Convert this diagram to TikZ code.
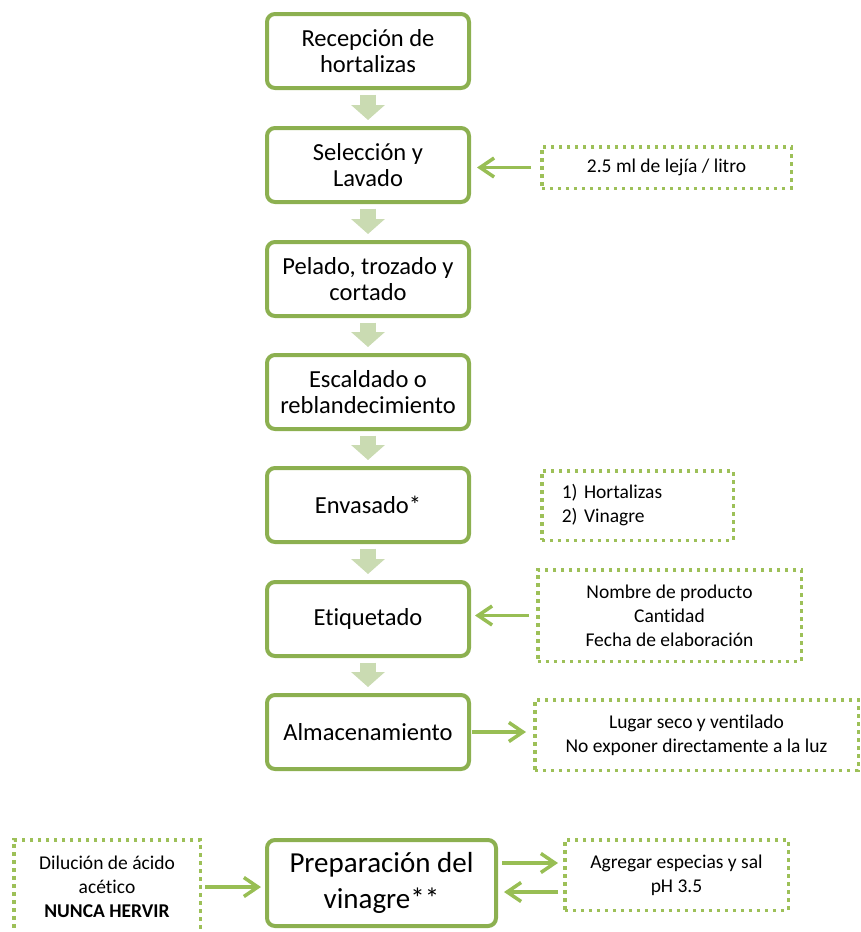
\documentclass[tikz,border=0pt]{standalone}
\usepackage{fontspec}
\setmainfont{Carlito}[Ligatures=NoCommon]
\usetikzlibrary{arrows.meta}

\begin{document}
\begin{tikzpicture}[x=1pt,y=-1pt]
% Colors
\definecolor{boxcolor}{RGB}{140,176,80}
\definecolor{fatcolor}{RGB}{202,219,178}
\definecolor{linkcolor}{RGB}{152,190,84}
\definecolor{notecolor}{RGB}{157,192,88}
% Styles
\tikzstyle{stage box}=[draw=boxcolor,line width=4pt,rounded corners=8pt,minimum width=202pt,minimum height=74pt,inner sep=0pt,align=center,font=\fontsize{24.5}{26}\selectfont]
\tikzstyle{note box}=[draw=notecolor,line width=3.5pt,dash pattern=on 3.5pt off 4.5pt,inner sep=0pt,align=center,font=\fontsize{19.5}{24}\selectfont]
\tikzstyle{flow arrow}=[fatcolor,line width=16pt,-{Triangle[length=15pt,width=33pt]}]
\tikzstyle{link arrow}=[linkcolor,line width=3.5pt,-{Straight Barb[length=14pt,width=19pt]}]
% Page
\useasboundingbox (0,0) rectangle (861,932);
\clip (0,0) rectangle (861,932);
% The graphic
\node[stage box] (recepcion) at (368,51) {Recepción de\\hortalizas};
\node[stage box] (seleccion) at (368,165) {Selección y\\Lavado};
\node[stage box] (pelado) at (368,279) {Pelado, trozado y\\cortado};
\node[stage box] (escaldado) at (368,392) {Escaldado o\\reblandecimiento};
\node[stage box] (envasado) at (368,505) {Envasado*};
\node[stage box] (etiquetado) at (368,619) {Etiquetado};
\node[stage box] (almacen) at (368,732) {Almacenamiento};
\node[stage box,minimum width=229pt,minimum height=86pt,font=\fontsize{29}{36}\selectfont] (vinagre) at (381.5,883) {Preparación del\\vinagre**};
% Notes
\node[note box,minimum width=249.5pt,minimum height=41.5pt] (lejia) at (666.5,167.5) {2.5 ml de lejía / litro};
\node[note box,minimum height=69.5pt,text width=151.5pt,inner xsep=20pt,align=left] (orden) at (637.5,505.5) {1) Hortalizas\\2) Vinagre};
\node[note box,minimum width=263.5pt,minimum height=91.5pt] (etiqueta) at (669.5,615.5) {Nombre de producto\\Cantidad\\Fecha de elaboración};
\node[note box,minimum width=323.5pt,minimum height=70.5pt] (lugar) at (696.5,735) {Lugar seco y ventilado\\No exponer directamente a la luz};
\node[note box,minimum width=186.5pt,minimum height=94.5pt] (dilucion) at (107,887) {Dilución de ácido\\acético\\\textbf{NUNCA HERVIR}};
\node[note box,minimum width=223.5pt,minimum height=70.5pt] (especias) at (676.5,875) {Agregar especias y sal\\pH 3.5};
% Arrows
\foreach \a/\b in {recepcion/seleccion,seleccion/pelado,pelado/escaldado,escaldado/envasado,envasado/etiquetado,etiquetado/almacen}
\draw[flow arrow] ([yshift=-4.5pt]\a.south) -- ([yshift=6pt]\b.north);
\draw[link arrow] ([xshift=-9pt]lejia.west) -- ([xshift=6pt]seleccion.east |- lejia.west);
\draw[link arrow] ([xshift=-7pt]etiqueta.west) -- ([xshift=4pt]etiquetado.east |- etiqueta.west);
\draw[link arrow] ([xshift=1pt]almacen.east) -- ([xshift=-7pt]lugar.west |- almacen.east);
\draw[link arrow] ([xshift=3pt]dilucion.east) -- ([xshift=-4pt]vinagre.west |- dilucion.east);
\draw[link arrow] ([yshift=20pt,xshift=4pt]vinagre.east) -- ([yshift=12pt,xshift=-5pt]especias.west);
\draw[link arrow] ([yshift=-17pt,xshift=-5pt]especias.west) -- ([yshift=-9pt,xshift=6pt]vinagre.east);
\end{tikzpicture}
\end{document}
